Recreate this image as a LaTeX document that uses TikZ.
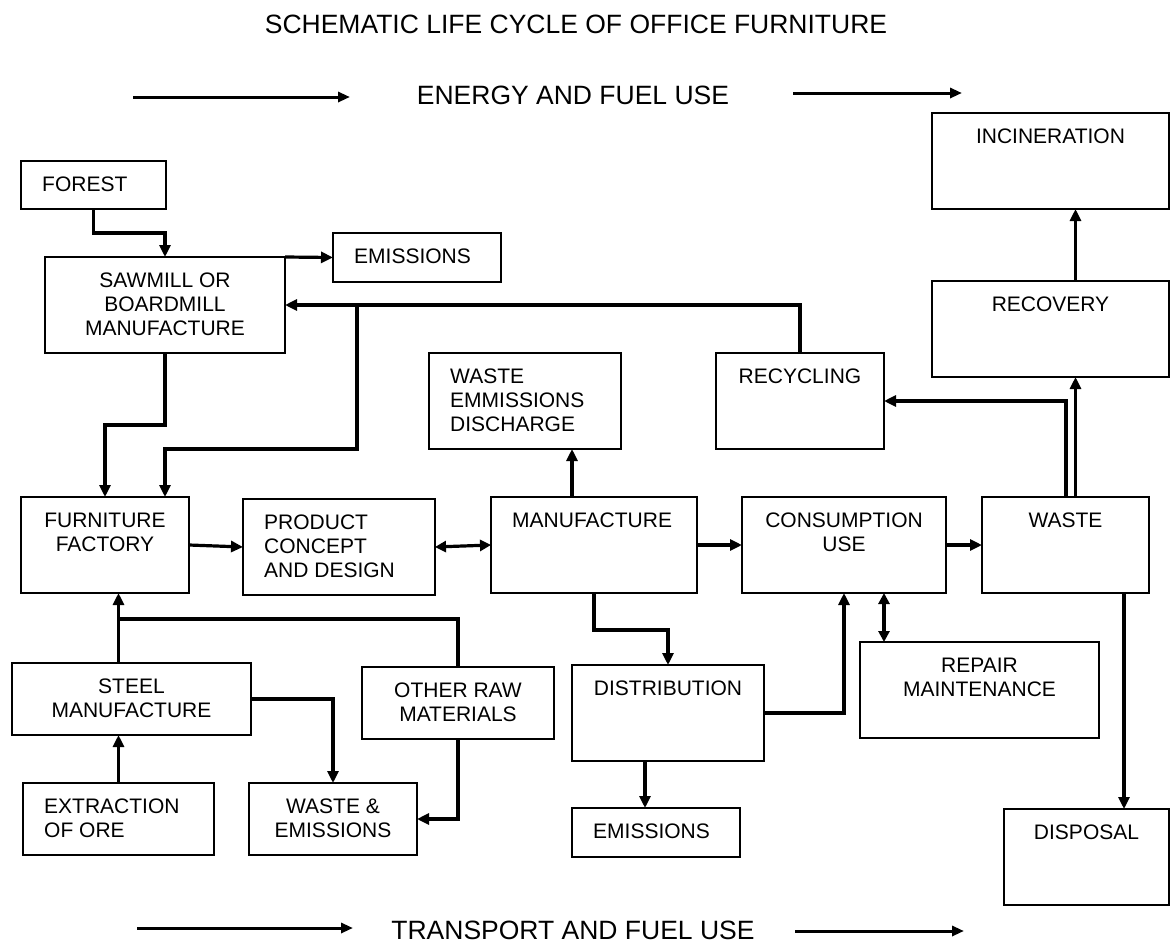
\documentclass[tikz,border=0pt]{standalone}
\usepackage{fontspec}
\setmainfont{Liberation Sans}
\usetikzlibrary{arrows.meta}

\begin{document}
\begin{tikzpicture}[
  x=1pt, y=-1pt,
  box/.style={draw, line width=2pt, outer sep=0pt, inner sep=0pt, anchor=north west},
  txt/.style={inner sep=0pt, font=\fontsize{21pt}{24pt}\selectfont},
  ct/.style={label={[txt, align=center, anchor=north, yshift=-16pt]north:#1}},
  lt/.style={label={[txt, align=left, anchor=north west, xshift=21pt, yshift=-16pt]north west:#1}},
  link/.style={line width=3.2pt},
  conn/.style={link, -{Triangle[length=12pt,width=11pt]}},
  dconn/.style={link, {Triangle[length=11pt,width=11pt]}-{Triangle[length=11pt,width=11pt]}},
  flow/.style={line width=3pt, -{Triangle[length=12pt,width=10pt]}},
  heading/.style={inner sep=0pt, anchor=base, font=\fontsize{26.5pt}{30pt}\selectfont}
]
\useasboundingbox (0,0) rectangle (1171,943);

% headings
\node[heading] (title) at (576,33) {SCHEMATIC LIFE CYCLE OF OFFICE FURNITURE};
\node[heading] (energy) at (573,104) {ENERGY AND FUEL USE};
\node[heading] (transport) at (573,939) {TRANSPORT AND FUEL USE};

% flow arrows beside the headings
\coordinate (e1a) at (133,97);  \coordinate (e1b) at (350,97);
\coordinate (e2a) at (793,93);  \coordinate (e2b) at (962,93);
\coordinate (t1a) at (137,928); \coordinate (t1b) at (353,928);
\coordinate (t2a) at (795,931); \coordinate (t2b) at (964,931);
\draw[flow] (e1a) -- (e1b);
\draw[flow] (e2a) -- (e2b);
\draw[flow] (t1a) -- (t1b);
\draw[flow] (t2a) -- (t2b);

% timber branch
\node[box, minimum width=145pt, minimum height=48pt, lt={FOREST}] (forest) at (21,161) {};
\node[box, minimum width=240pt, minimum height=96pt, ct={SAWMILL OR\\BOARDMILL\\MANUFACTURE}] (sawmill) at (45,257) {};
\node[box, minimum width=168pt, minimum height=49pt, lt={EMISSIONS}] (emis1) at (333,233) {};

% main chain
\node[box, minimum width=168pt, minimum height=96pt, ct={FURNITURE\\FACTORY}] (furniture) at (21,497) {};
\node[box, minimum width=192pt, minimum height=96pt, lt={PRODUCT\\CONCEPT\\AND DESIGN}] (product) at (243,499) {};
\node[box, minimum width=206pt, minimum height=96pt, lt={MANUFACTURE}] (manuf) at (491,497) {};
\node[box, minimum width=192pt, minimum height=96pt, lt={WASTE\\EMMISSIONS\\DISCHARGE}] (wasteemm) at (429,353) {};
\node[box, minimum width=168pt, minimum height=96pt, ct={RECYCLING}] (recycling) at (716,353) {};
\node[box, minimum width=204pt, minimum height=96pt, ct={CONSUMPTION\\USE}] (consumption) at (742,497) {};
\node[box, minimum width=167pt, minimum height=96pt, ct={WASTE}] (waste) at (982,497) {};
\node[box, minimum width=237pt, minimum height=96pt, ct={INCINERATION}] (incineration) at (932,113) {};
\node[box, minimum width=237pt, minimum height=96pt, ct={RECOVERY}] (recovery) at (932,281) {};

% steel and other materials
\node[box, minimum width=239pt, minimum height=72pt, ct={STEEL\\MANUFACTURE}] (steel) at (12,663) {};
\node[box, minimum width=192pt, minimum height=72pt, ct={OTHER RAW\\MATERIALS}] (otherraw) at (362,667) {};
\node[box, minimum width=191pt, minimum height=72pt, lt={EXTRACTION\\OF ORE}] (extraction) at (23,783) {};
\node[box, minimum width=168pt, minimum height=72pt, ct={WASTE \&\\EMISSIONS}] (wasteand) at (249,783) {};

% distribution and after-use
\node[box, minimum width=192pt, minimum height=96pt, ct={DISTRIBUTION}] (distribution) at (572,665) {};
\node[box, minimum width=239pt, minimum height=96pt, ct={REPAIR\\MAINTENANCE}] (repair) at (860,642) {};
\node[box, minimum width=168pt, minimum height=49pt, lt={EMISSIONS}] (emis2) at (572,808) {};
\node[box, minimum width=165pt, minimum height=96pt, ct={DISPOSAL}] (disposal) at (1004,809) {};

% junctions on shared lines
\coordinate (jn1) at (357,305);
\coordinate (jn2) at (extraction.north |- 0,619);

% timber connectors
\draw[conn] (forest.south) -- ++(0,24) -| (sawmill.north);
\draw[conn] (sawmill.north east) -- (emis1.west);
\draw[conn] (recycling.north) |- (sawmill.east);
\draw[conn] (jn1) -- ++(0,144) -| (sawmill.south |- furniture.north);
\draw[conn] (sawmill.south) -- ++(0,72) -| (furniture.north);

% main chain connectors
\draw[conn] (furniture.east) -- (product.west);
\draw[dconn] (product.east) -- (manuf.west);
\draw[conn] ([xshift=-22pt]manuf.north) -- ([xshift=-22pt]manuf.north |- wasteemm.south);
\draw[conn] (manuf.east) -- (consumption.west);
\draw[conn] (consumption.east) -- (waste.west);

% end of life
\draw[conn] ([xshift=0.5pt]waste.north) |- (recycling.east);
\draw[conn] ([xshift=10pt]waste.north) -- ([xshift=10pt]waste.north |- recovery.south);
\draw[conn] ([xshift=25pt]recovery.north) -- ([xshift=25pt]incineration.south);
\draw[dconn] ([xshift=40pt]consumption.south) -- ([xshift=40pt]consumption.south |- repair.north);
\draw[conn] ([xshift=58.5pt]waste.south) -- ([xshift=58.5pt]waste.south |- disposal.north);

% distribution
\draw[conn] (manuf.south) -- ++(0,37) -| (distribution.north);
\draw[conn] (distribution.east) -| (consumption.south);
\draw[conn] ([xshift=-23pt]distribution.south) -- ([xshift=-23pt]distribution.south |- emis2.north);

% steel and other materials
\draw[conn] (extraction.north |- steel.north) -- (extraction.north |- furniture.south);
\draw[link] (otherraw.north) |- (jn2);
\draw[conn] (extraction.north) -- (extraction.north |- steel.south);
\draw[conn] (steel.east) -| (wasteand.north);
\draw[conn] (otherraw.south) |- (wasteand.east);
\end{tikzpicture}
\end{document}
